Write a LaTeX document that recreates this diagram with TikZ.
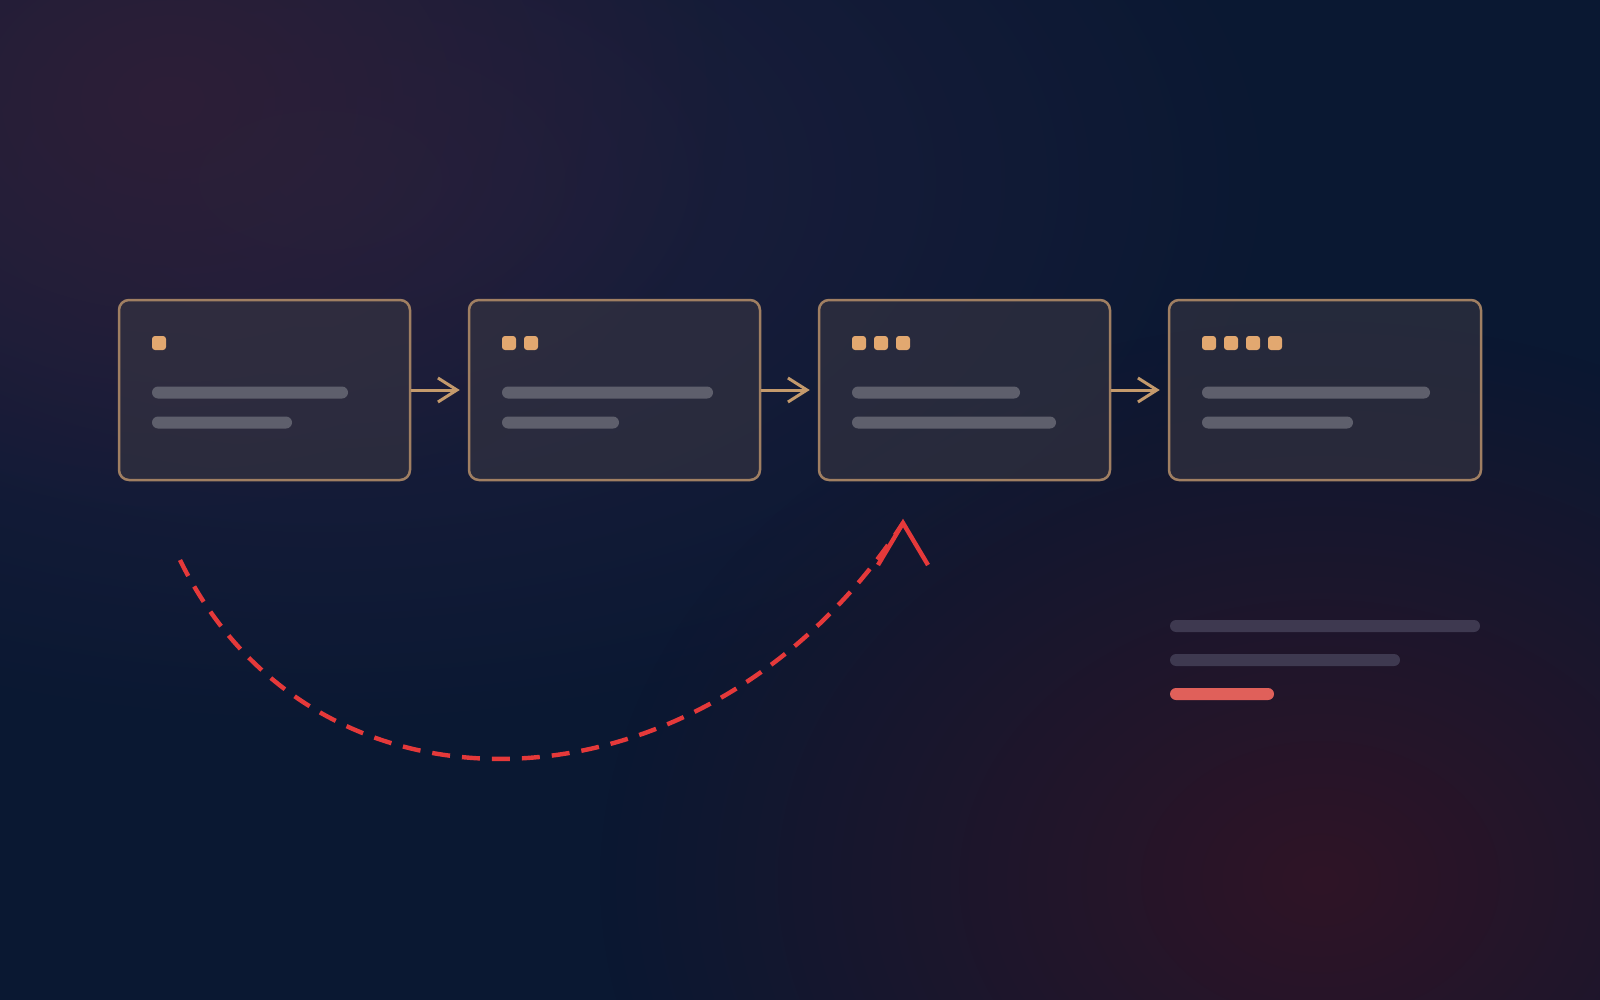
\documentclass[tikz,border=0pt]{standalone}
\usetikzlibrary{arrows.meta,fadings}
\definecolor{bgN}{HTML}{0A1832}
\definecolor{glA}{HTML}{2D1F37}
\definecolor{glV}{HTML}{21203F}
\definecolor{grA}{HTML}{2F1426}
\definecolor{cardfill}{HTML}{383642}
\definecolor{cardedge}{HTML}{A07F62}
\definecolor{dotc}{HTML}{E2A870}
\definecolor{barc}{HTML}{5E5F6C}
\definecolor{flowc}{HTML}{C49A6C}
\definecolor{loopred}{HTML}{E5393A}
\definecolor{dimbar}{HTML}{3E3950}
\definecolor{redbar}{HTML}{E0605A}
\tikzfading[name=glowfade, inner color=transparent!0, outer color=transparent!100]
\tikzset{
  card/.style={draw=cardedge, line width=1.25pt, fill=cardfill, fill opacity=0.6, draw opacity=1,
    rounded corners=5pt, inner sep=0pt, minimum height=90pt, minimum width=145.5pt},
  dot/.style={fill=dotc, inner sep=0pt, minimum size=7pt, rounded corners=1.5pt},
  bar/.style={fill=barc, rounded corners=3pt},
  dimline/.style={fill=dimbar, rounded corners=3pt},
  redline/.style={fill=redbar, rounded corners=3pt},
  flow/.style={draw=flowc, line width=1.5pt, -{Straight Barb[length=9.5pt, width=12pt]}},
  loopback/.style={draw=loopred, line width=2.2pt, dash pattern=on 9pt off 6pt},
  loophead/.style={draw=loopred, line width=2.2pt, line join=miter, line cap=butt}
}
\begin{document}
\begin{tikzpicture}[x=0.5pt, y=-0.5pt]
\useasboundingbox (0,0) rectangle (1600,1000);
% background
\fill[bgN] (0,0) rectangle (1600,1000);
\begin{scope}
\clip (0,0) rectangle (1600,1000);
\fill[glV, path fading=glowfade] (320,180) ellipse [x radius=980, y radius=560];
\fill[glA, path fading=glowfade] (170,100) ellipse [x radius=560, y radius=420];
\fill[grA, path fading=glowfade] (1320,880) ellipse [x radius=720, y radius=560];
\end{scope}
% cards
\node[card] (c1) at (264.5,390) {};
\node[card] (c2) at (614.5,390) {};
\node[card] (c3) at (964.5,390) {};
\node[card, minimum width=156pt] (c4) at (1325,390) {};
% dots
\node[dot] (d1a) at (159,343) {};
\node[dot] (d2a) at (509,343) {};
\node[dot] (d2b) at (531,343) {};
\node[dot] (d3a) at (859,343) {};
\node[dot] (d3b) at (881,343) {};
\node[dot] (d3c) at (903,343) {};
\node[dot] (d4a) at (1209,343) {};
\node[dot] (d4b) at (1231,343) {};
\node[dot] (d4c) at (1253,343) {};
\node[dot] (d4d) at (1275,343) {};
% bars
\fill[bar] (152,386.5) rectangle (348,398.5);
\fill[bar] (152,416.5) rectangle (292,428.5);
\fill[bar] (502,386.5) rectangle (713,398.5);
\fill[bar] (502,416.5) rectangle (619,428.5);
\fill[bar] (852,386.5) rectangle (1020,398.5);
\fill[bar] (852,416.5) rectangle (1056,428.5);
\fill[bar] (1202,386.5) rectangle (1430,398.5);
\fill[bar] (1202,416.5) rectangle (1353,428.5);
% flow arrows
\draw[flow] (c1.east) -- ([xshift=-4pt]c2.west);
\draw[flow] (c2.east) -- ([xshift=-4pt]c3.west);
\draw[flow] (c3.east) -- ([xshift=-4pt]c4.west);
% loop back
\coordinate (ls) at (180,560);
\coordinate (lt) at (903,523);
\draw[loopback] (ls) .. controls (316.5,839.5) and (708,822) .. (lt);
\draw[loophead] ([shift={(-25,42)}]lt) -- (lt) -- ([shift={(25,42)}]lt);
% legend lines
\fill[dimline] (1170,620) rectangle (1480,632);
\fill[dimline] (1170,654) rectangle (1400,666);
\fill[redline] (1170,688) rectangle (1274,700);
\end{tikzpicture}
\end{document}
